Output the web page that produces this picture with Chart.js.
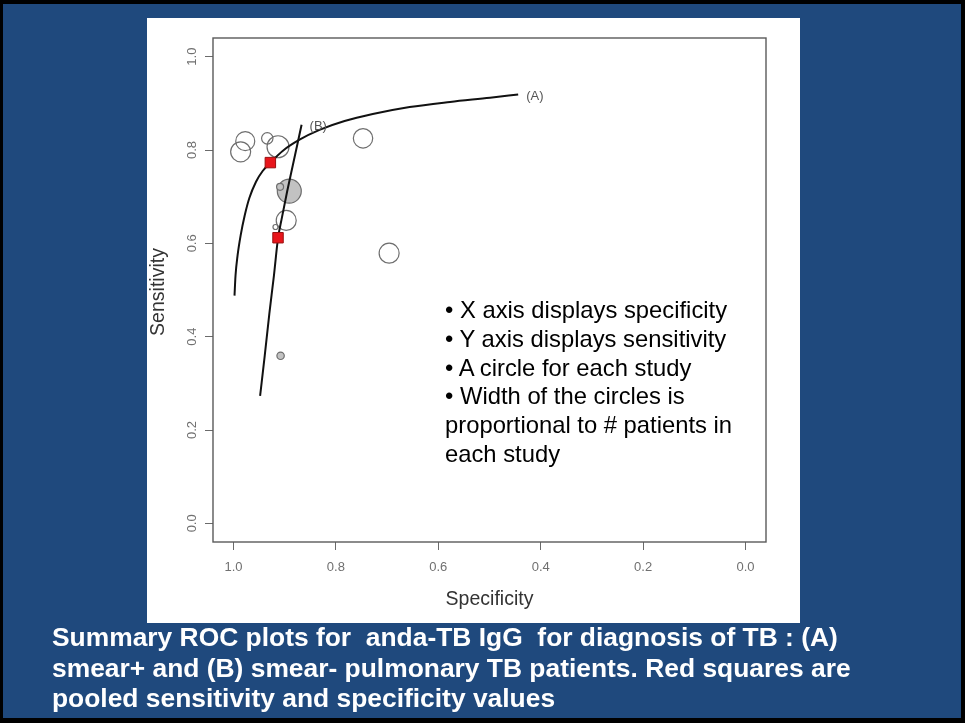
<!DOCTYPE html>
<html>
<head>
<meta charset="utf-8">
<script src="https://cdn.jsdelivr.net/npm/chart.js@4.4.0/dist/chart.umd.min.js"></script>
<style>
html,body{margin:0;padding:0;}
body{width:965px;height:723px;overflow:hidden;background:#000;position:relative;font-family:"Liberation Sans",Arial,Helvetica,sans-serif;}
#blue{position:absolute;left:3px;top:4px;width:958px;height:714px;background:#1F497D;}
#panel{position:absolute;left:147px;top:18px;width:653px;height:605px;background:#fff;}
#c{position:absolute;left:0;top:0;}
.t{position:absolute;white-space:pre;}
#bul{left:445px;top:296px;font-size:23.8px;line-height:28.8px;color:#000;}
#cap{left:52px;top:622px;font-size:26.4px;line-height:30.5px;color:#fff;font-weight:bold;}
#xt{left:213px;width:553px;text-align:center;top:587px;font-size:19.5px;line-height:22px;color:#333;}
#yt{left:-95px;top:281px;width:504px;text-align:center;font-size:19.5px;line-height:22px;color:#333;transform:rotate(-90deg);transform-origin:50% 50%;}
</style>
</head>
<body>
<div id="blue"></div>
<div id="panel"></div>
<canvas id="c" width="965" height="723"></canvas>
<div class="t" id="xt">Specificity</div>
<div class="t" id="yt">Sensitivity</div>
<div class="t" id="bul">• X axis displays specificity
• Y axis displays sensitivity
• A circle for each study
• Width of the circles is
proportional to # patients in
each study</div>
<div class="t" id="cap">Summary ROC plots for  anda-TB IgG  for diagnosis of TB : (A)
smear+ and (B) smear- pulmonary TB patients. Red squares are
pooled sensitivity and specificity values</div>
<script>
// ---- data ----
const xTickValues = [1.0, 0.8, 0.6, 0.4, 0.2, 0.0];
const yTickValues = [0.0, 0.2, 0.4, 0.6, 0.8, 1.0];

// SROC curve (A) smear+
const curveASpec = [0.998,0.996,0.992,0.986,0.978,0.969,0.956,0.943,0.926,0.904,0.871,0.832,0.783,0.728,0.656,0.577,0.499,0.444];
const curveASens = [0.488,0.531,0.574,0.617,0.660,0.697,0.732,0.755,0.775,0.798,0.822,0.843,0.862,0.877,0.892,0.903,0.912,0.919];
// SROC curve (B) smear-
const curveBSpec = [0.948,0.939,0.930,0.921,0.913,0.906,0.895,0.884,0.867];
const curveBSens = [0.273,0.359,0.449,0.531,0.611,0.652,0.712,0.768,0.854];
const curveLabels = ['(A)', '(B)'];

// individual studies (open circles)
const openSpec = [0.986,0.977,0.934,0.913,0.897,0.918,0.747,0.696];
const openSens = [0.796,0.819,0.825,0.807,0.649,0.635,0.825,0.579];
const openPatients = [100,95,57,110,100,25,97,100];
// individual studies (shaded circles)
const shadedSpec = [0.891,0.909,0.908];
const shadedSens = [0.712,0.721,0.359];
const shadedPatients = [120,35,37];

// pooled estimates (red squares): A, B
const pooledSpec = [0.928,0.913];
const pooledSens = [0.773,0.612];

// ---- chart ----
const radiusPerPatient = 0.1;
const pts = (xs, ys) => xs.map((v, i) => ({x: v, y: ys[i]}));
const fmt = v => Number(v).toFixed(1);
const FONT = '"Liberation Sans", Arial, Helvetica, sans-serif';

const boxPlugin = {
  id: 'box',
  afterDraw(chart) {
    const a = chart.chartArea, ctx = chart.ctx;
    ctx.save();
    ctx.strokeStyle = '#5a5a5a';
    ctx.lineWidth = 1.4;
    ctx.strokeRect(a.left, a.top, a.right - a.left, a.bottom - a.top);
    ctx.restore();
  }
};
const yLabelPlugin = {
  id: 'yLabels',
  afterDraw(chart) {
    const s = chart.scales.y, ctx = chart.ctx;
    ctx.save();
    ctx.fillStyle = '#707070';
    ctx.font = '13px ' + FONT;
    ctx.textAlign = 'center';
    ctx.textBaseline = 'middle';
    s.ticks.forEach(t => {
      const py = s.getPixelForValue(t.value);
      ctx.save();
      ctx.translate(chart.chartArea.left - 21, py);
      ctx.rotate(-Math.PI / 2);
      ctx.fillText(fmt(t.value), 0, 0);
      ctx.restore();
    });
    ctx.restore();
  }
};
const curveLabelPlugin = {
  id: 'curveLabels',
  afterDatasetsDraw(chart) {
    const ctx = chart.ctx;
    ctx.save();
    ctx.fillStyle = '#555';
    ctx.font = '13px ' + FONT;
    ctx.textAlign = 'left';
    ctx.textBaseline = 'middle';
    [1, 2].forEach((di, k) => {
      const meta = chart.getDatasetMeta(di);
      const last = meta.data[meta.data.length - 1];
      ctx.fillText(curveLabels[k], last.x + 8, last.y + 2);
    });
    ctx.restore();
  }
};

const gridOpts = {display: true, drawOnChartArea: false, drawTicks: true, tickLength: 8, color: '#6a6a6a', lineWidth: 1};

new Chart(document.getElementById('c'), {
  type: 'scatter',
  data: {
    datasets: [
      {label: 'Pooled', data: pts(pooledSpec, pooledSens), pointStyle: 'rect', pointRadius: 7.4,
       backgroundColor: '#e8151b', borderColor: '#9a1010', borderWidth: 1},
      {label: 'SROC A', data: pts(curveASpec, curveASens), showLine: true, pointRadius: 0,
       borderColor: '#111', borderWidth: 2, cubicInterpolationMode: 'monotone', fill: false},
      {label: 'SROC B', data: pts(curveBSpec, curveBSens), showLine: true, pointRadius: 0,
       borderColor: '#111', borderWidth: 2, cubicInterpolationMode: 'monotone', fill: false},
      {label: 'Shaded studies', data: pts(shadedSpec, shadedSens),
       pointRadius: c => shadedPatients[c.dataIndex] * radiusPerPatient,
       backgroundColor: '#c2c2c2', borderColor: '#6e6e6e', borderWidth: 1.2},
      {label: 'Studies', data: pts(openSpec, openSens),
       pointRadius: c => openPatients[c.dataIndex] * radiusPerPatient,
       backgroundColor: 'rgba(255,255,255,0)', borderColor: '#6e6e6e', borderWidth: 1.2}
    ]
  },
  options: {
    responsive: false,
    animation: false,
    events: [],
    layout: {padding: {left: 147, right: 199, top: 38, bottom: 151}},
    plugins: {legend: {display: false}, tooltip: {enabled: false}},
    scales: {
      x: {
        type: 'linear', reverse: true, min: -0.04, max: 1.04,
        afterBuildTicks: s => { s.ticks = xTickValues.map(v => ({value: v})); },
        afterFit: s => { s.height = 30; },
        grid: gridOpts,
        border: {display: false},
        ticks: {padding: 10, color: '#707070', font: {size: 13, family: FONT},
                callback: v => fmt(v), maxRotation: 0, minRotation: 0, autoSkip: false}
      },
      y: {
        type: 'linear', min: -0.04, max: 1.04,
        afterBuildTicks: s => { s.ticks = yTickValues.map(v => ({value: v})); },
        afterFit: s => { s.width = 66; },
        grid: gridOpts,
        border: {display: false},
        ticks: {display: false}
      }
    }
  },
  plugins: [boxPlugin, yLabelPlugin, curveLabelPlugin]
});
</script>
</body>
</html>
